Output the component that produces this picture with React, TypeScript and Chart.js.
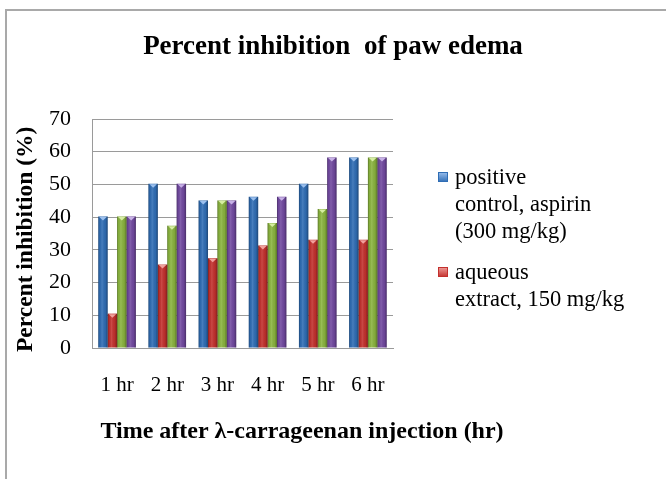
import React, { useEffect, useRef } from "react";
import { Chart, registerables } from "chart.js";

Chart.register(...registerables);

const categories = ["1 hr", "2 hr", "3 hr", "4 hr", "5 hr", "6 hr"];
const seriesNames = [
  "positive control, aspirin (300 mg/kg)",
  "aqueous extract, 150 mg/kg",
  "series 3",
  "series 4",
];
const aspirin = [40.2, 50.2, 45.1, 46.2, 50.2, 58.2];
const extract150 = [10.5, 25.5, 27.4, 31.3, 33.1, 33.1];
const series3 = [40.2, 37.4, 45.1, 38.2, 42.5, 58.2];
const series4 = [40.2, 50.2, 45.1, 46.2, 58.2, 58.2];
const yTicks = [0, 10, 20, 30, 40, 50, 60, 70];
const legendLines = [
  ["positive", "control, aspirin", "(300 mg/kg)"],
  ["aqueous", "extract, 150 mg/kg"],
];

const colors = ["#2f6db5", "#c3302d", "#8ab43e", "#7149a0"];
const tops = ["#9cc0ee", "#f0a09c", "#d6eda2", "#c7b1e6"];
const SERIF = '"Liberation Serif", "Times New Roman", serif';

const framePlugin = {
  id: "frame",
  beforeDraw(chart: any) {
    const ctx = chart.ctx;
    ctx.save();
    ctx.strokeStyle = "#a9a9a9";
    ctx.lineWidth = 2;
    ctx.beginPath();
    ctx.moveTo(6, chart.height);
    ctx.lineTo(6, 10);
    ctx.lineTo(chart.width, 10);
    ctx.stroke();
    ctx.restore();
  },
};

const barShadePlugin = {
  id: "barShade",
  afterDatasetsDraw(chart: any) {
    const ctx = chart.ctx;
    chart.data.datasets.forEach((ds: any, di: number) => {
      const meta = chart.getDatasetMeta(di);
      meta.data.forEach((el: any) => {
        const { x, y, base, width } = el.getProps(["x", "y", "base", "width"], true);
        const l = x - width / 2;
        const r = x + width / 2;
        const g = ctx.createLinearGradient(l, 0, r, 0);
        g.addColorStop(0, "rgba(0,0,0,0.35)");
        g.addColorStop(0.15, "rgba(0,0,0,0.05)");
        g.addColorStop(0.4, "rgba(255,255,255,0.12)");
        g.addColorStop(0.75, "rgba(0,0,0,0.05)");
        g.addColorStop(1, "rgba(0,0,0,0.35)");
        ctx.save();
        ctx.fillStyle = g;
        ctx.fillRect(l, y, width, base - y);
        ctx.fillStyle = tops[di];
        ctx.beginPath();
        ctx.moveTo(l + 1, y + 0.5);
        ctx.lineTo(r - 1, y + 0.5);
        ctx.lineTo(x, y + 4);
        ctx.closePath();
        ctx.fill();
        ctx.restore();
      });
    });
  },
};

const sideTextPlugin = {
  id: "sideText",
  afterDraw(chart: any) {
    const ctx = chart.ctx;
    ctx.save();
    // x-axis title
    ctx.fillStyle = "#000";
    ctx.font = "bold 24px " + SERIF;
    ctx.textAlign = "center";
    ctx.textBaseline = "alphabetic";
    ctx.fillText("Time after λ-carrageenan injection (hr)", 302, 438);
    // legend
    const baselines = [[184, 211, 238], [279, 306]];
    const markerTops = [172, 267];
    ctx.font = "22.5px " + SERIF;
    ctx.textAlign = "left";
    legendLines.forEach((lines, i) => {
      const mx = 438;
      const my = markerTops[i];
      const g = ctx.createLinearGradient(0, my, 0, my + 10);
      g.addColorStop(0, tops[i]);
      g.addColorStop(1, colors[i]);
      ctx.fillStyle = g;
      ctx.fillRect(mx, my, 10, 10);
      ctx.strokeStyle = colors[i];
      ctx.lineWidth = 1;
      ctx.strokeRect(mx + 0.5, my + 0.5, 9, 9);
      ctx.fillStyle = "#000";
      lines.forEach((t, j) => ctx.fillText(t, 455, baselines[i][j]));
    });
    ctx.restore();
  },
};

export default function App() {
  const ref = useRef<HTMLCanvasElement>(null);
  useEffect(() => {
    if (!ref.current) return;
    const chart = new Chart(ref.current, {
      type: "bar",
      data: {
        labels: categories,
        datasets: [aspirin, extract150, series3, series4].map((d, i) => ({
          label: seriesNames[i],
          data: d,
          backgroundColor: colors[i],
          borderWidth: 0,
          categoryPercentage: 0.75,
          barPercentage: 1,
          yAxisID: "y",
        })),
      },
      options: {
        responsive: false,
        animation: false,
        layout: { padding: 0 },
        plugins: {
          legend: { display: false },
          tooltip: { enabled: false },
          title: {
            display: true,
            text: "Percent inhibition  of paw edema",
            color: "#000",
            font: { family: SERIF, size: 27, weight: "bold" },
            padding: { top: 31, bottom: 55.6 },
          },
        },
        scales: {
          x: {
            grid: { display: false },
            border: { display: true, color: "#9a9a9a", width: 1 },
            ticks: {
              color: "#000",
              font: { family: SERIF, size: 21 },
              padding: 17,
              maxRotation: 0,
            },
            afterFit: (s: any) => {
              s.height = 131;
            },
          },
          y: {
            position: "left",
            min: 0,
            max: 70,
            afterBuildTicks: (s: any) => {
              s.ticks = yTicks.map((v) => ({ value: v }));
            },
            grid: { color: "#9a9a9a", drawTicks: false, lineWidth: 1 },
            border: { display: true, color: "#9a9a9a", width: 1 },
            ticks: {
              color: "#000",
              font: { family: SERIF, size: 22 },
              padding: 21,
            },
            title: {
              display: true,
              text: "Percent inhibition (%)  ",
              color: "#000",
              font: { family: SERIF, size: 23.5, weight: "bold" },
              padding: { top: 12, bottom: 0 },
            },
            afterFit: (s: any) => {
              s.width = 92;
            },
          },
          yR: {
            type: "linear",
            position: "right",
            display: true,
            grid: { display: false },
            border: { display: false },
            ticks: { display: false },
            afterFit: (s: any) => {
              s.width = 273;
            },
          },
        },
      },
      plugins: [framePlugin, barShadePlugin, sideTextPlugin],
    } as any);
    return () => chart.destroy();
  }, []);
  return (
    <div style={{ position: "absolute", left: 0, top: 0, width: 666, height: 479, background: "#fff" }}>
      <canvas ref={ref} width={666} height={479} style={{ display: "block" }} />
    </div>
  );
}
